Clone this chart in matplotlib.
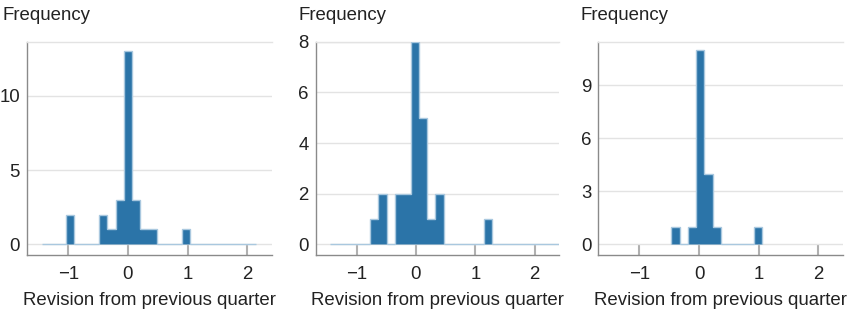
import matplotlib
matplotlib.use("Agg")
import matplotlib.pyplot as plt
import numpy as np

plt.rcParams['font.family'] = ['Liberation Sans', 'DejaVu Sans']

# ---- data ----
bin_start_1 = -1.447
bin_width_1 = 0.138
counts_1 = [0, 0, 0, 2, 0, 0, 0, 2, 1, 3, 13, 3, 1, 1, 0, 0, 0, 1, 0, 0, 0, 0, 0, 0, 0, 0]

bin_start_2 = -1.454
bin_width_2 = 0.137
counts_2 = [0, 0, 0, 0, 0, 1, 2, 0, 2, 2, 8, 5, 1, 2, 0, 0, 0, 0, 0, 1, 0, 0, 0, 0, 0, 0, 0, 0, 0]

bin_start_3 = -0.465
bin_width_3 = 0.139
counts_3 = [1, 0, 1, 11, 4, 1, 0, 0, 0, 0, 1]

x_ticks = [-1, 0, 1, 2]
y_ticks_1 = [0, 5, 10]
y_ticks_2 = [0, 2, 4, 6, 8]
y_ticks_3 = [0, 3, 6, 9]
y_top = [13.66, 8.0, 11.48]

xlabel = "Revision from previous quarter"
ylabel = "Frequency"

# ---- styling ----
BAR = '#2b74a8'
EDGE = '#a9c8df'
GRID = '#e3e3e3'
SPINE = '#8a8a8a'
TXT = '#222222'
FS = 13.4

W, H = 850, 316
fig = plt.figure(figsize=(W / 100, H / 100), dpi=100)

panels = [
    (bin_start_1, bin_width_1, counts_1, y_ticks_1, y_top[0], 27, 271.7, 2),
    (bin_start_2, bin_width_2, counts_2, y_ticks_2, y_top[1], 315.7, 559, 298),
    (bin_start_3, bin_width_3, counts_3, y_ticks_3, y_top[2], 598.3, 842.7, 581),
]

top_px, bot_px, zero_px = 41.7, 254.7, 244.3

for start, width, counts, yt, ytop, lpx, rpx, lab_x in panels:
    ax = fig.add_axes([lpx / W, 1 - bot_px / H, (rpx - lpx) / W, (bot_px - top_px) / H])
    n = len(counts)
    edges = start + width * np.arange(n + 1)
    ax.stairs(counts, edges, fill=True, facecolor=BAR, edgecolor=EDGE,
              linewidth=1.0, zorder=3)

    ax.set_xlim(-1.69, 2.41)
    px_per_unit = (zero_px - top_px) / ytop
    ax.set_ylim(-(bot_px - zero_px) / px_per_unit, ytop)
    ax.set_yticks(yt)
    ax.set_xticks(x_ticks)
    ax.set_xticklabels(['\u22121', '0', '1', '2'])
    ax.yaxis.grid(True, color=GRID, linewidth=1.0, zorder=0)
    ax.set_axisbelow(True)

    ax.spines['right'].set_visible(False)
    ax.spines['top'].set_color(GRID)
    ax.spines['top'].set_linewidth(1.0)
    ax.spines['left'].set_color(SPINE)
    ax.spines['bottom'].set_color(SPINE)
    ax.spines['left'].set_linewidth(1.0)
    ax.spines['bottom'].set_linewidth(1.0)

    ax.tick_params(axis='y', length=0, pad=5, labelsize=FS, labelcolor=TXT)
    ax.tick_params(axis='x', direction='in', length=7, width=1.5, color='#b0b0b0',
                   pad=8.3, labelsize=FS, labelcolor=TXT)
    ax.set_xlabel(xlabel, fontsize=FS, color=TXT, labelpad=6)
    fig.text(lab_x / W, 1 - 15.5 / H, ylabel, fontsize=FS, color=TXT, ha='left', va='center')

fig.savefig('out.png', dpi=100)
